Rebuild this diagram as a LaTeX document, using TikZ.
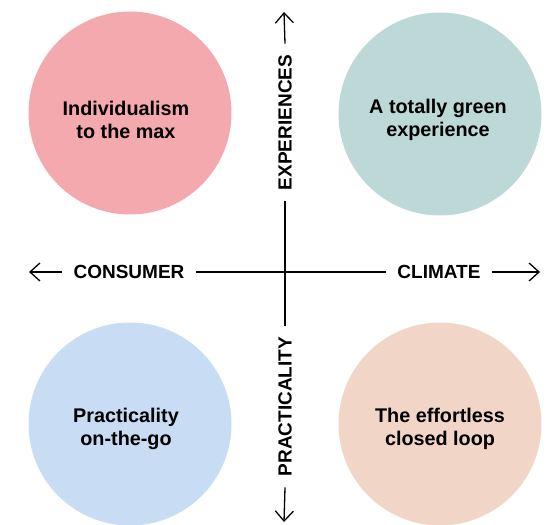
\documentclass[tikz,border=0pt]{standalone}
\usepackage{fontspec}
\setmainfont{Liberation Sans}
\usepackage{tikz}
\usetikzlibrary{arrows.meta}

\definecolor{pinkfill}{HTML}{F4A9AE}
\definecolor{tealfill}{HTML}{BDD9D7}
\definecolor{bluefill}{HTML}{C8DCF4}
\definecolor{peachfill}{HTML}{F1D6C8}

\tikzset{
  blob/.style={circle, minimum size=203pt, inner sep=0pt, draw=none},
  blobtext/.style={align=center, font=\fontsize{19.8}{23}\selectfont\bfseries},
  axislabel/.style={inner xsep=11pt, inner ysep=0pt, font=\fontsize{19}{23}\selectfont\bfseries},
  axisline/.style={line width=1.3pt},
  axisarrow/.style={axisline, -{Straight Barb[length=10pt,width=18pt,line width=1.3pt]}}
}

\begin{document}
\begin{tikzpicture}[x=1pt,y=1pt]
\useasboundingbox (0,0) rectangle (553,524);

% the four quadrants
\node[blob, fill=pinkfill] (indiv) at (130,411) {};
\node[blob, fill=tealfill] (green) at (440,410) {};
\node[blob, fill=bluefill] (practical) at (130,100) {};
\node[blob, fill=peachfill] (loop) at (440,100) {};

\node[blobtext] at (126,404) {Individualism\\to the max};
\node[blobtext] at (438,404) {A totally green\\experience};
\node[blobtext] at (126,95) {Practicality\\on-the-go};
\node[blobtext] at (440,95) {The effortless\\closed loop};

% axes
\coordinate (mid) at (284,252);
\coordinate (westend) at (29,252);
\coordinate (eastend) at (540,252);
\coordinate (northend) at (284,512);
\coordinate (southend) at (284,2);

\node[axislabel] (consumer) at (129,252) {CONSUMER};
\node[axislabel] (climate) at (439,252) {CLIMATE};
\node[axislabel, rotate=90] (experiences) at (285,401.5) {EXPERIENCES};
\node[axislabel, rotate=90] (practicality) at (285,117.5) {PRACTICALITY};

\draw[axisarrow] (consumer.west) -- (westend);
\draw[axisarrow] (climate.east) -- (eastend);
\draw[axisarrow] (experiences.east) -- (northend);
\draw[axisarrow] (practicality.west) -- (southend);
\draw[axisline] (consumer.east) -- (climate.west);
\draw[axisline] (experiences.west) -- (practicality.east);

\end{tikzpicture}
\end{document}
